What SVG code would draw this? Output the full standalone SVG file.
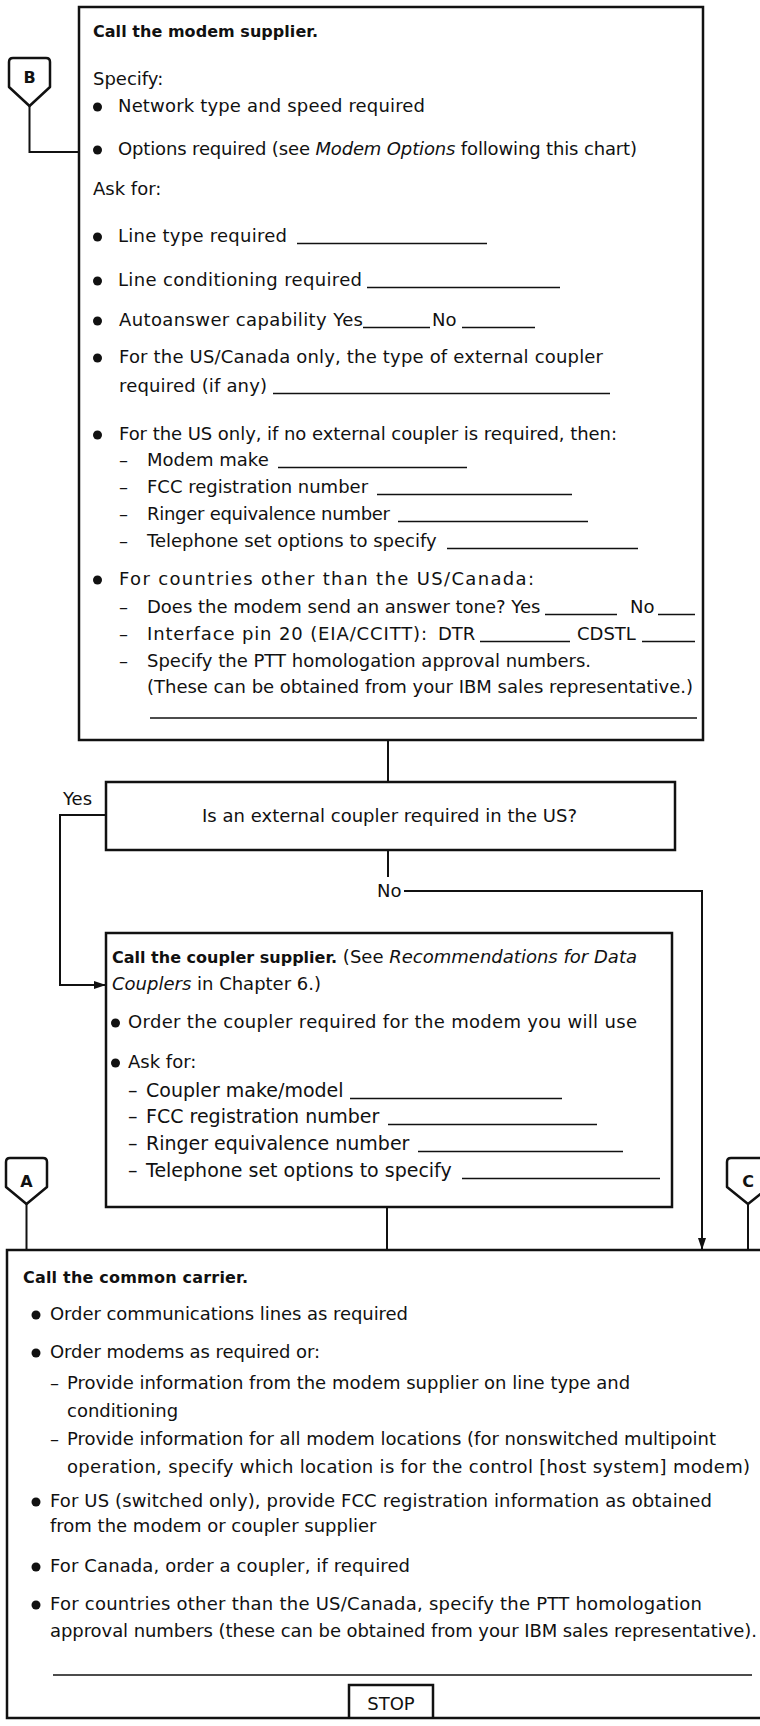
<svg xmlns="http://www.w3.org/2000/svg" width="760" height="1726" viewBox="0 0 760 1726">
<defs>
<style>
text{font-family:"DejaVu Sans","Liberation Sans",sans-serif;font-size:18px;fill:#111}
.b{font-weight:bold;font-size:16px}
.i{font-style:italic}
.c19{font-size:19px}
.box{fill:none;stroke:#111;stroke-width:2.5}
.con{fill:none;stroke:#111;stroke-width:2}
.blank{stroke:#111;stroke-width:1.6}
.dot{fill:#111}
.off{fill:#fff;stroke:#111;stroke-width:2.5;stroke-linejoin:round}
.lbl{font-weight:bold;font-size:16px;text-anchor:middle}
</style>
<marker id="arr" viewBox="0 0 12 8" refX="12" refY="4" markerWidth="12" markerHeight="8" markerUnits="userSpaceOnUse" orient="auto"><path d="M0,0 L12,4 L0,8 z" fill="#111"/></marker>
</defs>
<rect width="760" height="1726" fill="#fff"/>

<g id="connectors">
<path class="con" d="M29.5,106 L29.5,152 L79,152"/>
<path class="con" d="M388,740 L388,782"/>
<path class="con" d="M106,815 L60,815 L60,985 L106,985" marker-end="url(#arr)"/>
<path class="con" d="M388,850 L388,877"/>
<path class="con" d="M404,891 L702,891 L702,1250" marker-end="url(#arr)"/>
<path class="con" d="M387,1207 L387,1250"/>
<path class="con" d="M26.5,1204 L26.5,1250"/>
<path class="con" d="M748,1204 L748,1250"/>
<text x="63" y="805">Yes</text>
<text x="377" y="897">No</text>
</g>

<g id="offpage-B">
<path class="off" d="M9,62 Q9,58 13,58 L46,58 Q50,58 50,62 L50,87 L29.5,106 L9,87 Z"/>
<text class="lbl" x="29.5" y="83">B</text>
</g>

<g id="offpage-A">
<path class="off" d="M6,1162 Q6,1158 10,1158 L43,1158 Q47,1158 47,1162 L47,1187 L26.5,1204 L6,1187 Z"/>
<text class="lbl" x="26.5" y="1187">A</text>
</g>

<g id="offpage-C">
<path class="off" d="M727,1162 Q727,1158 731,1158 L765,1158 Q769,1158 769,1162 L769,1187 L748,1204 L727,1187 Z"/>
<text class="lbl" x="748" y="1187">C</text>
</g>

<g id="modem-supplier">
<rect class="box" x="79" y="7" width="624" height="733"/>
<text class="b" x="93" y="37" textLength="225">Call the modem supplier.</text>
<text x="93" y="85">Specify:</text>
<circle class="dot" cx="97.5" cy="107" r="4.5"/>
<text x="118" y="112" textLength="307">Network type and speed required</text>
<circle class="dot" cx="97.5" cy="150" r="4.5"/>
<text x="118" y="155" textLength="519">Options required (see <tspan class="i">Modem Options</tspan> following this chart)</text>
<text x="93" y="195">Ask for:</text>
<circle class="dot" cx="97.5" cy="237" r="4.5"/>
<text x="118" y="242" textLength="169">Line type required</text>
<line class="blank" x1="297" y1="243.5" x2="487" y2="243.5"/>
<circle class="dot" cx="97.5" cy="281" r="4.5"/>
<text x="118" y="286" textLength="244">Line conditioning required</text>
<line class="blank" x1="367" y1="287.5" x2="560" y2="287.5"/>
<circle class="dot" cx="97.5" cy="321" r="4.5"/>
<text x="119" y="326" textLength="244">Autoanswer capability Yes</text>
<line class="blank" x1="363" y1="327.5" x2="430" y2="327.5"/>
<text x="432" y="326">No</text>
<line class="blank" x1="462" y1="327.5" x2="535" y2="327.5"/>
<circle class="dot" cx="97.5" cy="358" r="4.5"/>
<text x="119" y="363" textLength="484">For the US/Canada only, the type of external coupler</text>
<text x="119" y="392" textLength="148">required (if any)</text>
<line class="blank" x1="273" y1="393.5" x2="610" y2="393.5"/>
<circle class="dot" cx="97.5" cy="435" r="4.5"/>
<text x="119" y="440" textLength="498">For the US only, if no external coupler is required, then:</text>
<text y="466"><tspan x="119">–</tspan><tspan x="147">Modem make</tspan></text>
<line class="blank" x1="278" y1="467.5" x2="467" y2="467.5"/>
<text y="493"><tspan x="119">–</tspan><tspan x="147">FCC registration number</tspan></text>
<line class="blank" x1="377" y1="494.5" x2="572" y2="494.5"/>
<text y="520"><tspan x="119">–</tspan><tspan x="147" textLength="243">Ringer equivalence number</tspan></text>
<line class="blank" x1="398" y1="521.5" x2="588" y2="521.5"/>
<text y="547"><tspan x="119">–</tspan><tspan x="147">Telephone set options to specify</tspan></text>
<line class="blank" x1="447" y1="548.5" x2="638" y2="548.5"/>
<circle class="dot" cx="97.5" cy="580" r="4.5"/>
<text x="119" y="585" textLength="415">For countries other than the US/Canada:</text>
<text y="613"><tspan x="119">–</tspan><tspan x="147">Does the modem send an answer tone?  Yes</tspan></text>
<line class="blank" x1="545" y1="614.5" x2="617" y2="614.5"/>
<text x="630" y="613">No</text>
<line class="blank" x1="658" y1="614.5" x2="695" y2="614.5"/>
<text y="640"><tspan x="119">–</tspan><tspan x="147" textLength="280">Interface pin 20 (EIA/CCITT):</tspan><tspan x="438">DTR</tspan></text>
<line class="blank" x1="480" y1="641.5" x2="570" y2="641.5"/>
<text x="577" y="640">CDSTL</text>
<line class="blank" x1="642" y1="641.5" x2="695" y2="641.5"/>
<text y="667"><tspan x="119">–</tspan><tspan x="147">Specify the PTT homologation approval numbers.</tspan></text>
<text x="147" y="693" textLength="546">(These can be obtained from your IBM sales representative.)</text>
<line class="blank" x1="150" y1="718" x2="697" y2="718"/>
</g>

<g id="decision">
<rect class="box" x="106" y="782" width="569" height="68"/>
<text x="389.5" y="822" text-anchor="middle" textLength="375">Is an external coupler required in the US?</text>
</g>

<g id="coupler-supplier">
<rect class="box" x="106" y="933" width="566" height="274"/>
<text x="112" y="963" textLength="525"><tspan class="b">Call the coupler supplier.</tspan>  (See <tspan class="i">Recommendations for Data</tspan></text>
<text x="112" y="990"><tspan class="i">Couplers</tspan> in Chapter 6.)</text>
<circle class="dot" cx="115.5" cy="1023" r="4.5"/>
<text x="128" y="1028" textLength="509">Order the coupler required for the modem you will use</text>
<circle class="dot" cx="115.5" cy="1063" r="4.5"/>
<text x="128" y="1068">Ask for:</text>
<text class="c19" y="1097"><tspan x="128">–</tspan><tspan x="146">Coupler make/model</tspan></text>
<line class="blank" x1="350" y1="1098.5" x2="562" y2="1098.5"/>
<text class="c19" y="1123"><tspan x="128">–</tspan><tspan x="146">FCC registration number</tspan></text>
<line class="blank" x1="388" y1="1124.5" x2="597" y2="1124.5"/>
<text class="c19" y="1150"><tspan x="128">–</tspan><tspan x="146">Ringer equivalence number</tspan></text>
<line class="blank" x1="418" y1="1151.5" x2="623" y2="1151.5"/>
<text class="c19" y="1177"><tspan x="128">–</tspan><tspan x="146">Telephone set options to specify</tspan></text>
<line class="blank" x1="462" y1="1178.5" x2="660" y2="1178.5"/>
</g>

<g id="common-carrier">
<path class="box" d="M765,1250 L7,1250 L7,1718 L765,1718"/>
<text class="b" x="23" y="1283" textLength="225">Call the common carrier.</text>
<circle class="dot" cx="36" cy="1315" r="4.5"/>
<text x="50" y="1320" textLength="358">Order communications lines as required</text>
<circle class="dot" cx="36" cy="1353" r="4.5"/>
<text x="50" y="1358" textLength="270">Order modems as required or:</text>
<text y="1389"><tspan x="50">–</tspan><tspan x="67">Provide information from the modem supplier on line type and</tspan></text>
<text x="67" y="1417">conditioning</text>
<text y="1445"><tspan x="50">–</tspan><tspan x="67">Provide information for all modem locations (for nonswitched multipoint</tspan></text>
<text x="67" y="1473" textLength="683">operation, specify which location is for the control [host system] modem)</text>
<circle class="dot" cx="36" cy="1502" r="4.5"/>
<text x="50" y="1507" textLength="662">For US (switched only), provide FCC registration information as obtained</text>
<text x="50" y="1532">from the modem or coupler supplier</text>
<circle class="dot" cx="36" cy="1567" r="4.5"/>
<text x="50" y="1572" textLength="360">For Canada, order a coupler, if required</text>
<circle class="dot" cx="36" cy="1605" r="4.5"/>
<text x="50" y="1610" textLength="652">For countries other than the US/Canada, specify the PTT homologation</text>
<text x="50" y="1637" textLength="707">approval numbers (these can be obtained from your IBM sales representative).</text>
<line class="blank" x1="53" y1="1675" x2="752" y2="1675"/>
</g>

<g id="stop">
<path class="box" d="M349,1718 L349,1685 L433,1685 L433,1718"/>
<text x="391" y="1710" text-anchor="middle">STOP</text>
</g>
</svg>
